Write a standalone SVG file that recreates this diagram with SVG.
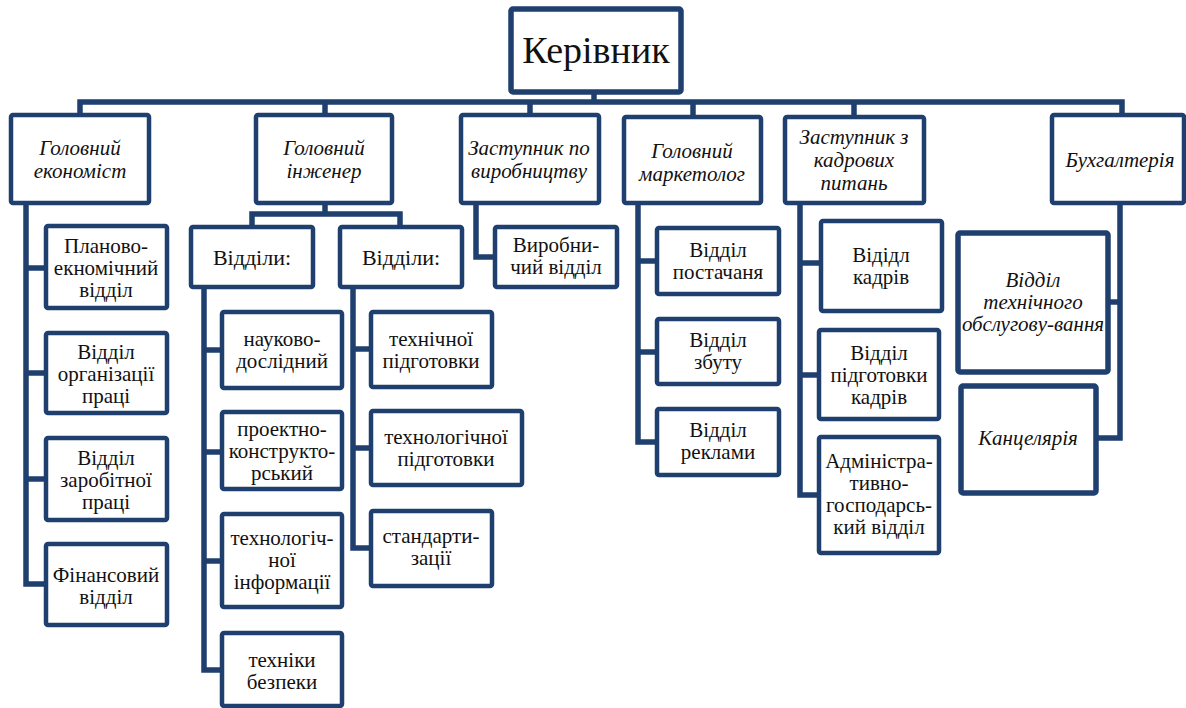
<svg xmlns="http://www.w3.org/2000/svg" width="1186" height="708" viewBox="0 0 1186 708">
<style>
.b{fill:#fff;stroke:#1f3f6e;stroke-width:4.5}
.bt{fill:#fff;stroke:#1f3f6e;stroke-width:5.5}
.c{fill:none;stroke:#1f3f6e;stroke-width:5.5;stroke-linejoin:miter;stroke-linecap:butt}
.t text{font-size:21px;fill:#111;text-anchor:middle}
.i{font-style:italic}
.t .top{font-size:38px}
.t .d{font-size:22px}
</style>
<rect width="1186" height="708" fill="#fff"/>
<g id="connectors">
<polyline class="c" points="594,92 594,102"/>
<polyline class="c" points="80,115 80,102 1122,102 1122,115"/>
<line class="c" x1="325" y1="102" x2="325" y2="115"/>
<line class="c" x1="530" y1="102" x2="530" y2="115"/>
<line class="c" x1="693" y1="102" x2="693" y2="117"/>
<line class="c" x1="854" y1="102" x2="854" y2="117"/>
<polyline class="c" points="26,203 26,584 46,584"/>
<line class="c" x1="26" y1="268" x2="46" y2="268"/>
<line class="c" x1="26" y1="373" x2="46" y2="373"/>
<line class="c" x1="26" y1="479" x2="46" y2="479"/>
<polyline class="c" points="325,203 325,214"/>
<polyline class="c" points="252,227 252,214 400,214 400,227"/>
<polyline class="c" points="204,287 204,670 222,670"/>
<line class="c" x1="204" y1="350" x2="222" y2="350"/>
<line class="c" x1="204" y1="452" x2="222" y2="452"/>
<line class="c" x1="204" y1="561" x2="222" y2="561"/>
<polyline class="c" points="353,287 353,548 371,548"/>
<line class="c" x1="353" y1="349" x2="371" y2="349"/>
<line class="c" x1="353" y1="448" x2="371" y2="448"/>
<polyline class="c" points="476,203 476,257 495,257"/>
<polyline class="c" points="638,203 638,442 657,442"/>
<line class="c" x1="638" y1="261" x2="657" y2="261"/>
<line class="c" x1="638" y1="352" x2="657" y2="352"/>
<polyline class="c" points="800,203 800,495 819,495"/>
<line class="c" x1="800" y1="263" x2="821" y2="263"/>
<line class="c" x1="800" y1="375" x2="819" y2="375"/>
<polyline class="c" points="1120,203 1120,438 1096,438"/>
<line class="c" x1="1120" y1="302" x2="1108" y2="302"/>
</g>
<g class="t" font-family="Liberation Serif, serif">
<g id="kerivnyk"><rect class="bt" x="511" y="9" width="170" height="83" rx="2"/><text class="top" x="596" y="63">Керівник</text></g>
<g id="ekonomist"><rect class="b" x="11" y="115" width="138" height="88" rx="2"/><text class="i" x="80" y="155">Головний</text><text class="i" x="80" y="178">економіст</text></g>
<g id="inzhener"><rect class="b" x="256" y="115" width="136" height="88" rx="2"/><text class="i" x="324" y="155">Головний</text><text class="i" x="324" y="178">інженер</text></g>
<g id="zast-vyrob"><rect class="b" x="461" y="115" width="138" height="88" rx="2"/><text class="i" x="529" y="155">Заступник по</text><text class="i" x="529" y="178">виробництву</text></g>
<g id="marketolog"><rect class="b" x="624" y="117" width="137" height="86" rx="2"/><text class="i" x="692" y="158">Головний</text><text class="i" x="692" y="181">маркетолог</text></g>
<g id="zast-kadry"><rect class="b" x="785" y="117" width="139" height="86" rx="2"/><text class="i" x="854" y="144">Заступник з</text><text class="i" x="854" y="167">кадрових</text><text class="i" x="854" y="190">питань</text></g>
<g id="buh"><rect class="b" x="1052" y="115" width="132" height="88" rx="2"/><text class="i" x="1120" y="167">Бухгалтерія</text></g>
<g id="planovo"><rect class="b" x="46" y="226" width="121" height="82" rx="2"/><text x="106" y="253">Планово-</text><text x="106" y="275">екномічний</text><text x="106" y="297">відділ</text></g>
<g id="orhanizatsii"><rect class="b" x="46" y="333" width="121" height="80" rx="2"/><text x="106" y="359">Відділ</text><text x="106" y="381">організації</text><text x="106" y="403">праці</text></g>
<g id="zarobitnoi"><rect class="b" x="46" y="438" width="121" height="82" rx="2"/><text x="106" y="465">Відділ</text><text x="106" y="487">заробітної</text><text x="106" y="509">праці</text></g>
<g id="finansovyi"><rect class="b" x="46" y="544" width="121" height="81" rx="2"/><text x="106" y="582">Фінансовий</text><text x="106" y="604">відділ</text></g>
<g id="viddily1"><rect class="b" x="191" y="227" width="122" height="60" rx="2"/><text class="d" x="252" y="265">Відділи:</text></g>
<g id="viddily2"><rect class="b" x="340" y="227" width="122" height="60" rx="2"/><text class="d" x="401" y="265">Відділи:</text></g>
<g id="naukovo"><rect class="b" x="222" y="312" width="120" height="76" rx="2"/><text x="282" y="346">науково-</text><text x="282" y="368">дослідний</text></g>
<g id="proektno"><rect class="b" x="222" y="412" width="120" height="77" rx="2"/><text x="282" y="436">проектно-</text><text x="282" y="458">конструкто-</text><text x="282" y="480">рський</text></g>
<g id="tekhinform"><rect class="b" x="222" y="514" width="120" height="93" rx="2"/><text x="282" y="545">технологіч-</text><text x="282" y="567">ної</text><text x="282" y="589">інформації</text></g>
<g id="bezpeky"><rect class="b" x="222" y="633" width="120" height="73" rx="2"/><text x="282" y="667">техніки</text><text x="282" y="689">безпеки</text></g>
<g id="tekhnichnoi"><rect class="b" x="371" y="312" width="121" height="75" rx="2"/><text x="431" y="346">технічної</text><text x="431" y="368">підготовки</text></g>
<g id="tekhnolohichnoi"><rect class="b" x="371" y="411" width="151" height="74" rx="2"/><text x="446" y="444">технологічної</text><text x="446" y="466">підготовки</text></g>
<g id="standart"><rect class="b" x="371" y="511" width="121" height="75" rx="2"/><text x="431" y="543">стандарти-</text><text x="431" y="565">зації</text></g>
<g id="vyrobnychyi"><rect class="b" x="495" y="227" width="122" height="60" rx="2"/><text x="556" y="252">Виробни-</text><text x="556" y="274">чий відділ</text></g>
<g id="postachannia"><rect class="b" x="657" y="228" width="122" height="66" rx="2"/><text x="718" y="257">Відділ</text><text x="718" y="279">постачаня</text></g>
<g id="zbutu"><rect class="b" x="657" y="319" width="122" height="65" rx="2"/><text x="718" y="347">Відділ</text><text x="718" y="369">збуту</text></g>
<g id="reklamy"><rect class="b" x="657" y="409" width="122" height="66" rx="2"/><text x="718" y="437">Відділ</text><text x="718" y="459">реклами</text></g>
<g id="kadriv"><rect class="b" x="821" y="221" width="121" height="90" rx="2"/><text x="881" y="262">Відідл</text><text x="881" y="284">кадрів</text></g>
<g id="pidhotovky"><rect class="b" x="819" y="330" width="120" height="89" rx="2"/><text x="879" y="360">Відділ</text><text x="879" y="382">підготовки</text><text x="879" y="404">кадрів</text></g>
<g id="admin"><rect class="b" x="819" y="437" width="120" height="116" rx="2"/><text x="879" y="468">Адміністра-</text><text x="879" y="490">тивно-</text><text x="879" y="512">господарсь-</text><text x="879" y="534">кий відділ</text></g>
<g id="obsluhovuvannia"><rect class="bt" x="958" y="233" width="150" height="139" rx="2"/><text class="i" x="1033" y="287">Відділ</text><text class="i" x="1033" y="309">технічного</text><text class="i" x="1033" y="331">обслугову-вання</text></g>
<g id="kantseliariia"><rect class="bt" x="961" y="386" width="135" height="107" rx="2"/><text class="i" x="1028" y="445">Канцелярія</text></g>
</g>
</svg>
